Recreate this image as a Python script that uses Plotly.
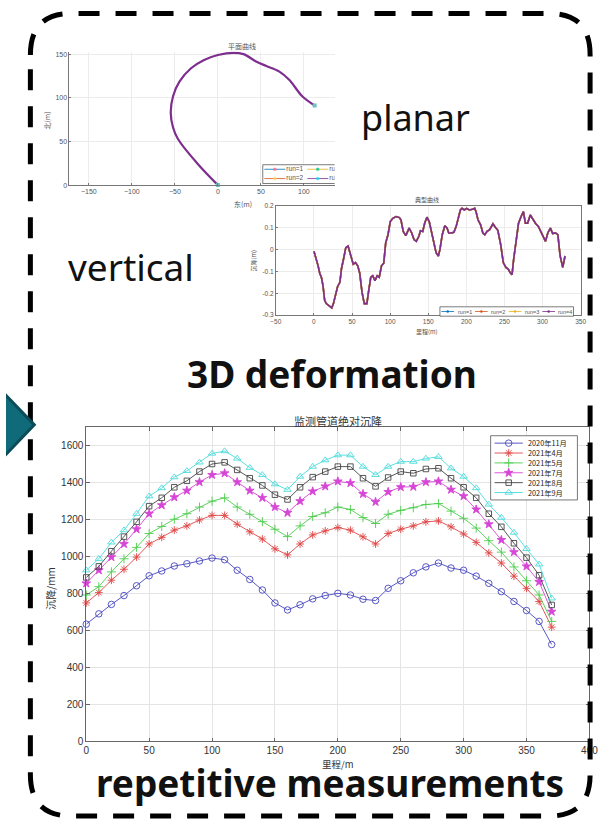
import plotly.graph_objects as go

W, H = 603, 829

# ---------------- planar alignment (east / north, m) ----------------
east = [0, -23.6, -46.4, -52.1, -54.8, -52.1, -44.5, -31.2, -16.0, 0, 18.3, 29.7,
        44.9, 56.3, 71.5, 82.9, 98.1, 112.5]
north = [0, 24.5, 52.8, 66.0, 83.0, 101.8, 118.7, 133.8, 143.3, 149.0, 151.5, 150.0,
         141.3, 136.4, 130.0, 120.6, 101.8, 91.2]

# ---------------- vertical profile (chainage m / elevation m) ----------------
chainage = [0, 2.6, 5.5, 7.7, 9.8, 11.9, 14.1, 16.2, 20.5, 23.4, 25.6, 29.0, 31.1, 34.1,
            36.2, 38.8, 41.8, 44.8, 48.2, 51.6, 54.6, 57.5, 60.1, 63.1, 66.1, 69.5, 71.6,
            74.6, 77.2, 80.1, 83.1, 85.7, 88.7, 91.6, 94.2, 97.2, 100.2, 103.6, 107.8,
            112.1, 114.2, 117.2, 120.6, 124.9, 128.3, 131.3, 134.3, 137.7, 139.8, 142.8,
            145.4, 148.3, 151.3, 154.7, 158.1, 160.3, 163.3, 165.4, 168.4, 171.8, 174.8,
            176.9, 180.3, 183.7, 186.7, 189.7, 192.2, 194.4, 197.4, 200.3, 203.8, 208.0,
            211.0, 212.7, 215.3, 218.7, 221.7, 224.2, 227.2, 230.6, 234.9, 237.8, 241.3,
            245.1, 248.5, 251.9, 254.9, 257.9, 260.0, 262.1, 265.6, 268.5, 271.9, 274.9,
            277.5, 280.5, 283.9, 287.7, 291.1, 294.5, 297.5, 300.5, 303.9, 306.9, 310.3,
            313.3, 316.7, 320.1, 323.1, 326.5, 329.5]
profile = [-0.008, -0.037, -0.075, -0.110, -0.127, -0.165, -0.232, -0.247, -0.258, -0.267,
           -0.247, -0.195, -0.169, -0.150, -0.087, -0.045, 0.008, 0.015, -0.022, -0.067,
           -0.060, -0.075, -0.108, -0.195, -0.247, -0.247, -0.195, -0.127, -0.120, -0.142,
           -0.120, -0.127, -0.075, -0.063, 0.030, 0.067, 0.127, 0.142, 0.150, 0.145, 0.135,
           0.082, 0.063, 0.097, 0.075, 0.045, 0.037, 0.060, 0.085, 0.082, 0.120, 0.147,
           0.127, 0.075, 0.015, -0.015, -0.030, 0.000, 0.067, 0.108, 0.097, 0.075, 0.075,
           0.078, 0.105, 0.142, 0.180, 0.187, 0.180, 0.187, 0.180, 0.183, 0.187, 0.172,
           0.135, 0.112, 0.075, 0.067, 0.082, 0.090, 0.117, 0.102, 0.087, 0.022, -0.060,
           -0.082, -0.090, -0.108, -0.115, -0.045, 0.060, 0.120, 0.150, 0.172, 0.120,
           0.120, 0.157, 0.135, 0.117, 0.105, 0.082, 0.060, 0.037, 0.075, 0.097, 0.072,
           0.075, 0.067, -0.030, -0.082, -0.030]
runs = ["run=1", "run=2", "run=3", "run=4"]
run_colors = ["#0072bd", "#d95319", "#edb120", "#7e2f8e"]

# ---------------- repeated settlement survey (mm) ----------------
stations = [0, 10, 20, 30, 40, 50, 60, 70, 80, 90, 100, 110, 120, 130, 140, 150, 160, 170,
            180, 190, 200, 210, 220, 230, 240, 250, 260, 270, 280, 290, 300, 310, 320, 330,
            340, 350, 360, 370]
s_2020_11 = [635, 691, 742, 790, 843, 897, 923, 950, 962, 977, 993, 984, 927, 877, 820, 750,
             712, 740, 772, 790, 802, 793, 770, 763, 829, 870, 913, 945, 966, 939, 927, 895,
             856, 811, 758, 709, 650, 525]
s_2021_04 = [750, 806, 873, 932, 998, 1069, 1105, 1144, 1167, 1199, 1224, 1224, 1176, 1135,
             1096, 1043, 1010, 1069, 1118, 1140, 1158, 1144, 1108, 1069, 1126, 1149, 1167,
             1189, 1194, 1162, 1123, 1078, 1021, 966, 895, 829, 758, 619]
s_2021_05 = [793, 838, 918, 989, 1051, 1126, 1164, 1203, 1233, 1269, 1301, 1319, 1269, 1230,
             1190, 1149, 1109, 1167, 1218, 1238, 1269, 1256, 1212, 1180, 1230, 1251, 1265,
             1283, 1288, 1247, 1208, 1155, 1087, 1025, 945, 870, 793, 650]
s_2021_07 = [856, 927, 998, 1069, 1149, 1233, 1279, 1322, 1358, 1404, 1443, 1452, 1404, 1358,
             1319, 1269, 1238, 1301, 1354, 1381, 1408, 1399, 1340, 1297, 1351, 1377, 1379,
             1404, 1408, 1363, 1328, 1256, 1176, 1091, 1025, 948, 864, 703]
s_2021_08 = [888, 948, 1030, 1109, 1189, 1274, 1319, 1376, 1411, 1461, 1502, 1511, 1470, 1425,
             1386, 1336, 1310, 1376, 1431, 1461, 1488, 1488, 1425, 1381, 1429, 1461, 1452,
             1475, 1479, 1425, 1376, 1319, 1233, 1162, 1073, 995, 900, 739]
s_2021_09 = [927, 989, 1078, 1144, 1233, 1328, 1372, 1431, 1465, 1511, 1559, 1572, 1532, 1482,
             1443, 1393, 1363, 1434, 1488, 1523, 1550, 1550, 1488, 1443, 1488, 1515, 1515,
             1532, 1541, 1479, 1434, 1372, 1283, 1212, 1131, 1043, 959, 775]
survey_names = ["2020年11月", "2021年4月", "2021年5月", "2021年7月", "2021年8月", "2021年9月"]
survey_values = [s_2020_11, s_2021_04, s_2021_05, s_2021_07, s_2021_08, s_2021_09]
survey_colors = ["#4646bd", "#e04646", "#4ccc4c", "#d646d6", "#444444", "#4cdada"]
survey_symbols = ["circle-open", "asterisk-open", "cross-thin-open", "star",
                  "square-open", "triangle-up-open"]
survey_sizes = [6.5, 6.5, 6.5, 6.5, 5.5, 6.5]

prof_ticks = [-0.3, -0.2, -0.1, 0, 0.1, 0.2]
prof_ticktext = ["-0.3", "-0.2", "-0.1", "0", "0.1", "0.2"]

CJK = "Noto Sans CJK SC"
SANS = "Liberation Sans"


def xdom(p0, p1):
    return [p0 / W, p1 / W]


def ydom(top, bottom):
    return [1 - bottom / H, 1 - top / H]


fig = go.Figure()

# planar alignment
fig.add_trace(go.Scatter(x=east, y=north, mode="lines", line=dict(color="#7e2f8e", width=2.2,
                         shape="spline"), xaxis="x2", yaxis="y2", hoverinfo="skip"))
fig.add_trace(go.Scatter(x=[east[0], east[-1]], y=[north[0], north[-1]], mode="markers",
                         marker=dict(symbol="square", size=4, color="#6cc3bd"),
                         cliponaxis=False, xaxis="x2", yaxis="y2", hoverinfo="skip"))

# vertical profile, one line per run
for name, col in zip(runs, run_colors):
    fig.add_trace(go.Scatter(x=chainage, y=profile, mode="lines", name=name,
                             line=dict(color=col, width=1.6), xaxis="x3", yaxis="y3",
                             hoverinfo="skip"))

# settlement surveys
for name, vals, col, sym, sz in zip(survey_names, survey_values, survey_colors,
                                    survey_symbols, survey_sizes):
    fig.add_trace(go.Scatter(x=stations, y=vals, mode="lines+markers", name=name,
                             line=dict(color=col, width=0.9),
                             marker=dict(symbol=sym, size=sz, color=col,
                                         line=dict(color=col, width=0.9)),
                             cliponaxis=False, xaxis="x", yaxis="y", hoverinfo="skip"))

# ---------- legend of the settlement chart (pixel overlay) ----------
lx0, lx1, ly0, ly1 = 497, 586, 437, 502
fig.add_trace(go.Scatter(x=[lx0, lx1, lx1, lx0, lx0], y=[ly0, ly0, ly1, ly1, ly0],
                         mode="lines", fill="toself", fillcolor="white",
                         line=dict(color="#555", width=0.8), xaxis="x4", yaxis="y4",
                         hoverinfo="skip"))
annotations = []
for k, (name, col, sym, sz) in enumerate(zip(survey_names, survey_colors, survey_symbols,
                                             survey_sizes)):
    yy = 444.5 + 10 * k
    fig.add_trace(go.Scatter(x=[501, 530], y=[yy, yy], mode="lines",
                             line=dict(color=col, width=0.9), xaxis="x4", yaxis="y4",
                             hoverinfo="skip"))
    fig.add_trace(go.Scatter(x=[515.5], y=[yy], mode="markers",
                             marker=dict(symbol=sym, size=sz, color=col,
                                         line=dict(color=col, width=0.9)),
                             xaxis="x4", yaxis="y4", hoverinfo="skip"))
    annotations.append(dict(x=533, y=yy, xref="x4", yref="y4", text=name, showarrow=False,
                            xanchor="left", yanchor="middle",
                            font=dict(family=CJK, size=7.3, color="#222")))

# ---------- legend of the profile chart ----------
px0, px1, py0, py1 = 445, 582, 306.5, 316
fig.add_trace(go.Scatter(x=[px0, px1, px1, px0, px0], y=[py0, py0, py1, py1, py0],
                         mode="lines", fill="toself", fillcolor="white",
                         line=dict(color="#444", width=0.7), xaxis="x4", yaxis="y4",
                         hoverinfo="skip"))
for k, (name, col) in enumerate(zip(runs, run_colors)):
    sx = 446.5 + 34.5 * k
    yy = (py0 + py1) / 2
    fig.add_trace(go.Scatter(x=[sx, sx + 13], y=[yy, yy], mode="lines",
                             line=dict(color=col, width=0.8), xaxis="x4", yaxis="y4",
                             hoverinfo="skip"))
    fig.add_trace(go.Scatter(x=[sx + 6.5], y=[yy], mode="markers",
                             marker=dict(symbol="circle", size=2.5, color=col),
                             xaxis="x4", yaxis="y4", hoverinfo="skip"))
    annotations.append(dict(x=sx + 14.5, y=yy, xref="x4", yref="y4", text=name,
                            showarrow=False, xanchor="left", yanchor="middle",
                            font=dict(family=SANS, size=5.5, color="#555")))

# ---------- legend of the planar chart (clipped by its plot area) ----------
gx0, gx1, gy0, gy1 = 263.3, 345, 162.7, 181.7
fig.add_trace(go.Scatter(x=[gx0, gx1, gx1, gx0, gx0], y=[gy0, gy0, gy1, gy1, gy0],
                         mode="lines", fill="toself", fillcolor="white",
                         line=dict(color="#444", width=0.7), xaxis="x5", yaxis="y5",
                         hoverinfo="skip", cliponaxis=True))
planar_leg = [(265, 167.3, 0), (265, 176.7, 1), (309, 167.3, 2), (309, 176.7, 3)]
for sx, yy, k in planar_leg:
    fig.add_trace(go.Scatter(x=[sx, sx + 21.5], y=[yy, yy], mode="lines",
                             line=dict(color=run_colors[k], width=0.8), xaxis="x5",
                             yaxis="y5", hoverinfo="skip"))
    fig.add_trace(go.Scatter(x=[sx + 10.7], y=[yy], mode="markers",
                             marker=dict(symbol="asterisk-open", size=3,
                                         line=dict(color=run_colors[k], width=0.8)),
                             xaxis="x5", yaxis="y5", hoverinfo="skip"))
    fig.add_trace(go.Scatter(x=[sx + 22.5], y=[yy], mode="text", text=[runs[k]],
                             textposition="middle right", cliponaxis=True,
                             textfont=dict(family=SANS, size=6.5, color="#555"),
                             xaxis="x5", yaxis="y5", hoverinfo="skip"))

# ---------- chart titles & axis labels ----------
def label(x, y, text, size, color="#444", family=CJK, angle=0):
    annotations.append(dict(x=x, y=y, xref="x4", yref="y4", text=text, showarrow=False,
                            xanchor="center", yanchor="middle", textangle=angle,
                            font=dict(family=family, size=size, color=color)))


label(242, 43, "平面曲线", 7, "#555")
label(42, 118, "北(m)", 7, "#555", angle=-90)
label(243, 202, "东(m)", 7, "#555")

label(432, 198, "典型曲线", 6, "#555")
label(254, 260, "沉降(m)", 6, "#555", angle=-90)
label(432, 331, "里程(m)", 6, "#555")

label(340, 422, "监测管道绝对沉降", 11, "#333")
label(46, 592, "沉降/mm", 10, "#333", angle=-90)
label(340, 769, "里程/m", 9.5, "#333")

# ---------- big captions ----------
BIG = "Noto Sans"
label(420, 114.5, "planar", 36, "#111", BIG)
label(128, 265.5, "vertical", 37, "#111", BIG)
label(334.5, 374.5, "<b>3D deformation</b>", 37, "#111", BIG)
label(332.5, 788.5, "<b>repetitive measurements</b>", 37, "#111", BIG)

# ---------- dashed frame and arrow ----------
L, T, R, B, r = 25, 9.5, 599, 822, 42
frame = (f"M {L},{T + r} Q {L},{T} {L + r},{T} L {R - r},{T} Q {R},{T} {R},{T + r} "
         f"L {R},{B - r} Q {R},{B} {R - r},{B} L {L + r},{B} Q {L},{B} {L},{B - r} Z")
shapes = [
    dict(type="path", path=frame, xref="x4", yref="y4", layer="above",
         line=dict(color="black", width=5, dash="21px,16px")),
    dict(type="path", path="M -3,393 L 29,426 L -3,459 Z", xref="x4", yref="y4",
         layer="above", fillcolor="#0f6b7a", line=dict(color="#0a4c58", width=3)),
]

tick_small = dict(family=SANS, size=7, color="#555")
axis_common = dict(showline=True, linecolor="#777", linewidth=0.8, ticks="inside",
                   ticklen=2, tickcolor="#777", zeroline=False, fixedrange=True)

fig.update_layout(
    width=W, height=H, margin=dict(l=0, r=0, t=0, b=0),
    paper_bgcolor="white", plot_bgcolor="rgba(0,0,0,0)", showlegend=False,
    annotations=annotations, shapes=shapes,
    # settlement chart
    xaxis=dict(domain=xdom(82.3, 598.3), range=[0, 400], tickvals=[0, 50, 100, 150, 200, 250,
               300, 350, 400], showgrid=True, gridcolor="#e4e4e4", mirror="ticks",
               tickfont=dict(family=SANS, size=10, color="#333"), anchor="y",
               **{**axis_common, "ticklen": 4, "linecolor": "#666", "tickcolor": "#666"}),
    yaxis=dict(domain=ydom(428.6, 746.5), range=[0, 1700], tickvals=[0, 200, 400, 600, 800,
               1000, 1200, 1400, 1600], showgrid=True, gridcolor="#e4e4e4", mirror="ticks",
               tickfont=dict(family=SANS, size=10, color="#333"), anchor="x",
               **{**axis_common, "ticklen": 4, "linecolor": "#666", "tickcolor": "#666"}),
    # planar chart
    xaxis2=dict(domain=xdom(65, 337), range=[-172.6, 135.7],
                tickvals=[-150, -100, -50, 0, 50, 100], showgrid=True, gridcolor="#ececec",
                tickfont=tick_small, anchor="y2", **axis_common),
    yaxis2=dict(domain=ydom(48.1, 183.3), range=[0, 153], tickvals=[0, 50, 100, 150],
                showgrid=True, gridcolor="#ececec", tickfont=tick_small, anchor="x2",
                **axis_common),
    # profile chart
    xaxis3=dict(domain=xdom(276.7, 589.3), range=[-50, 350],
                tickvals=[-50, 0, 50, 100, 150, 200, 250, 300, 350], showgrid=True,
                gridcolor="#ececec", mirror=True, anchor="y3",
                tickfont=dict(family=SANS, size=6.5, color="#555"), **axis_common),
    yaxis3=dict(domain=ydom(204, 315), range=[-0.3, 0.2], tickvals=prof_ticks,
                ticktext=prof_ticktext, showgrid=True, gridcolor="#ececec", mirror=True,
                anchor="x3", tickfont=dict(family=SANS, size=6.5, color="#555"),
                **axis_common),
    # pixel overlays for decorations
    xaxis4=dict(domain=[0, 1], range=[0, W], visible=False, fixedrange=True, anchor="y4"),
    yaxis4=dict(domain=[0, 1], range=[H, 0], visible=False, fixedrange=True, anchor="x4"),
    xaxis5=dict(domain=xdom(65, 337), range=[65, 337], visible=False, fixedrange=True,
                anchor="y5"),
    yaxis5=dict(domain=ydom(48.1, 183.3), range=[183.3, 48.1], visible=False,
                fixedrange=True, anchor="x5"),
)

fig.write_html("out.html")
